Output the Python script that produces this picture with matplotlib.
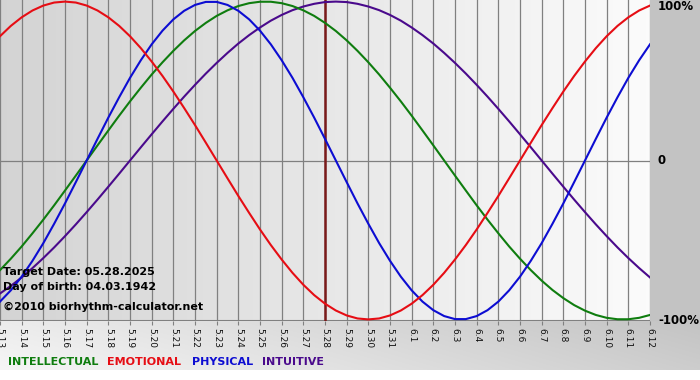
# biorhythm chart, target 05.28.2025, birth 04.03.1942
import numpy as np
import matplotlib as mpl
import matplotlib.pyplot as plt

mpl.rcParams['font.family'] = 'DejaVu Sans'

## data, every half day from 5.13 to 6.12
day_labels = ['5.13', '5.14', '5.15', '5.16', '5.17', '5.18', '5.19', '5.20', '5.21', '5.22',
              '5.23', '5.24', '5.25', '5.26', '5.27', '5.28', '5.29', '5.30', '5.31', '6.1',
              '6.2', '6.3', '6.4', '6.5', '6.6', '6.7', '6.8', '6.9', '6.10', '6.11', '6.12']
target_label = '5.28'

physical = [-0.888, -0.817, -0.731, -0.631, -0.520, -0.398, -0.270, -0.136, 0.0, 0.136,
            0.270, 0.398, 0.520, 0.631, 0.731, 0.817, 0.888, 0.942, 0.979, 0.998,
            0.998, 0.979, 0.942, 0.888, 0.817, 0.731, 0.631, 0.520, 0.398, 0.270,
            0.136, 0.0, -0.136, -0.270, -0.398, -0.520, -0.631, -0.731, -0.817, -0.888,
            -0.942, -0.979, -0.998, -0.998, -0.979, -0.942, -0.888, -0.817, -0.731, -0.631,
            -0.520, -0.398, -0.270, -0.136, 0.0, 0.136, 0.270, 0.398, 0.520, 0.631, 0.731]
emotional = [0.782, 0.847, 0.901, 0.944, 0.975, 0.994, 1.0, 0.994, 0.975, 0.944,
             0.901, 0.847, 0.782, 0.707, 0.623, 0.532, 0.434, 0.330, 0.223, 0.112,
             0.0, -0.112, -0.223, -0.330, -0.434, -0.532, -0.623, -0.707, -0.782, -0.847,
             -0.901, -0.944, -0.975, -0.994, -1.0, -0.994, -0.975, -0.944, -0.901, -0.847,
             -0.782, -0.707, -0.623, -0.532, -0.434, -0.330, -0.223, -0.112, 0.0, 0.112,
             0.223, 0.330, 0.434, 0.532, 0.623, 0.707, 0.782, 0.847, 0.901, 0.944, 0.975]
intellectual = [-0.690, -0.618, -0.541, -0.458, -0.372, -0.282, -0.189, -0.095, 0.0, 0.095,
                0.189, 0.282, 0.372, 0.458, 0.541, 0.618, 0.690, 0.756, 0.815, 0.866,
                0.910, 0.945, 0.972, 0.990, 0.999, 0.999, 0.990, 0.972, 0.945, 0.910,
                0.866, 0.815, 0.756, 0.690, 0.618, 0.541, 0.458, 0.372, 0.282, 0.189,
                0.095, 0.0, -0.095, -0.189, -0.282, -0.372, -0.458, -0.541, -0.618, -0.690,
                -0.756, -0.815, -0.866, -0.910, -0.945, -0.972, -0.990, -0.999, -0.999, -0.990, -0.972]
intuitive = [-0.837, -0.789, -0.736, -0.677, -0.614, -0.547, -0.476, -0.402, -0.325, -0.246,
             -0.165, -0.083, 0.0, 0.083, 0.165, 0.246, 0.325, 0.402, 0.476, 0.547,
             0.614, 0.677, 0.736, 0.789, 0.837, 0.880, 0.916, 0.946, 0.969, 0.986,
             0.997, 1.0, 0.997, 0.986, 0.969, 0.946, 0.916, 0.880, 0.837, 0.789,
             0.736, 0.677, 0.614, 0.547, 0.476, 0.402, 0.325, 0.246, 0.165, 0.083,
             0.0, -0.083, -0.165, -0.246, -0.325, -0.402, -0.476, -0.547, -0.614, -0.677, -0.736]

y_ticks = [1, 0, -1]
y_tick_labels = ['100%', '0', '-100%']
info_lines = ['Target Date: 05.28.2025', 'Day of birth: 04.03.1942', '\u00a92010 biorhythm-calculator.net']
legend_names = ['INTELLECTUAL', 'EMOTIONAL', 'PHYSICAL', 'INTUITIVE']

## styles
col_int, col_emo, col_phy, col_itu = '#0f7d0f', '#e60d14', '#0d0dd2', '#4a0a8c'
grid_col = '#808080'
W, H = 700, 380
ax_top, ax_bot, ax_right = 0, 321, 650   # plot area in pixels

fig = plt.figure(figsize=(W / 100, H / 100), dpi=100)

# figure background (gray gradient, white strip at the very bottom)
bg = fig.add_axes([0, 0, 1, 1], zorder=-10)
xx = np.linspace(0, 1, W)[None, :]
yy = np.linspace(0, 1, H)[:, None]
shade = 0.925 - 0.16 * xx + 0.04 * np.clip((yy * H - ax_bot) / 50, 0, 1)
shade = np.clip(shade, 0.765, 1)
shade = np.where(yy * H > 370, 1.0, shade)
shade = np.where((xx * W > ax_right) & (yy * H <= ax_bot), 0.765, shade)
bg.imshow(np.dstack([shade] * 3), aspect='auto', extent=[0, 1, 0, 1], origin='upper')
bg.set_axis_off()

# plot area
ax = fig.add_axes([0, (H - ax_bot) / H, ax_right / W, (ax_bot - ax_top) / H])
n_days = len(day_labels)
x_days = np.arange(n_days)
x = np.arange(len(physical)) * 0.5
ax.set_xlim(0, n_days - 1)
ax.set_ylim(-1.01, 1.01)
grad = np.linspace(0.83, 0.985, 256)[None, :]
ax.imshow(np.dstack([grad] * 3), aspect='auto', extent=[0, n_days - 1, -1.01, 1.01], zorder=0)

for xi in x_days:
    ax.axvline(xi, color=grid_col, lw=0.9, zorder=1)
ax.axhline(0, color=grid_col, lw=0.9, zorder=1)
ax.axhline(-1.01, color=grid_col, lw=1.5, zorder=1)

ax.axvline(day_labels.index(target_label), color='#7a1a1a', lw=1.8, zorder=2)

ax.plot(x, intuitive, color=col_itu, lw=1.5, zorder=3)
ax.plot(x, intellectual, color=col_int, lw=1.5, zorder=3)
ax.plot(x, physical, color=col_phy, lw=1.5, zorder=3)
ax.plot(x, emotional, color=col_emo, lw=1.5, zorder=3)

for s in ax.spines.values():
    s.set_visible(False)
ax.set_xticks(x_days)
ax.set_xticklabels(day_labels, rotation=-90, fontsize=6.5, color='#101010')
ax.tick_params(axis='x', length=3, width=0.8, color=grid_col, pad=2)
ax.set_yticks([])

# right hand scale labels
for lab, py in zip(y_tick_labels, [7, 161, 321]):
    fig.text(658 / W, 1 - py / H, lab, ha='left', va='center',
             fontsize=8.5, fontweight='bold', color='black')

for line, py in zip(info_lines, [272, 287, 307]):
    fig.text(3 / W, 1 - py / H, line, ha='left', va='center',
             fontsize=8, fontweight='bold', color='black')

leg_x = [8, 107, 192, 262]
for name, col, lx in zip(legend_names, [col_int, col_emo, col_phy, col_itu], leg_x):
    fig.text(lx / W, 1 - 362 / H, name, ha='left', va='center', fontsize=8,
             fontweight='bold', color=col)

fig.savefig('out.png', dpi=100)
